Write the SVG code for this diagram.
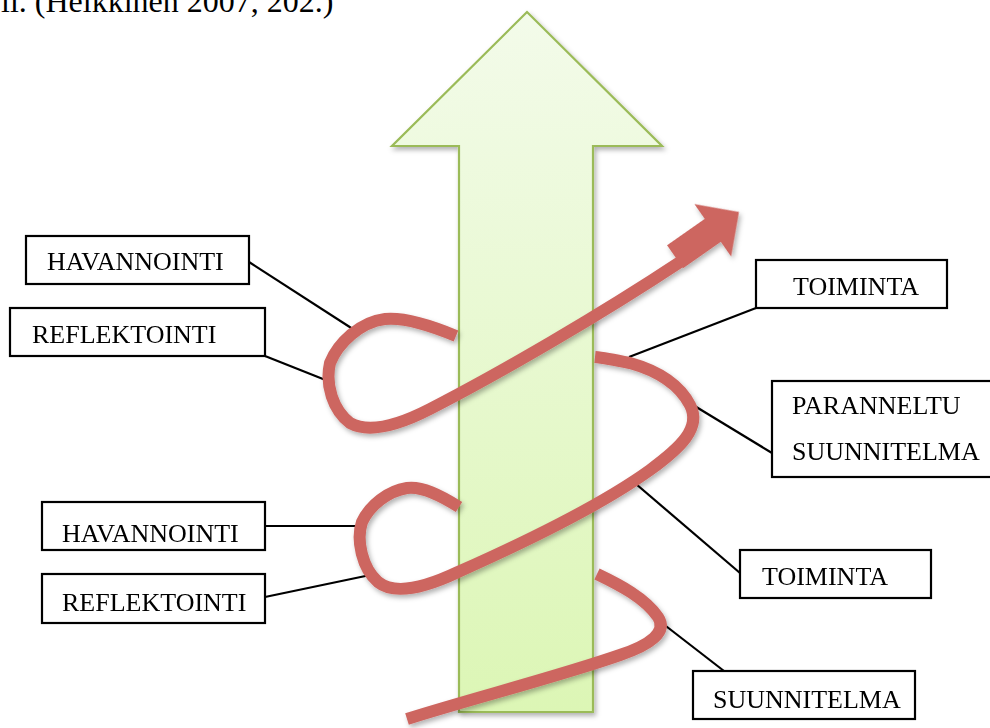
<svg xmlns="http://www.w3.org/2000/svg" width="990" height="728" viewBox="0 0 990 728">
<style>
.box{fill:#ffffff;stroke:#000000;stroke-width:2.2}
.lbl{font-family:"Liberation Serif","Times New Roman",serif;font-size:26px;fill:#000000}
.lead{stroke:#000000;stroke-width:2.2;fill:none}
.rib{fill:none;stroke:#cd6660;stroke-width:12;stroke-linecap:butt;stroke-linejoin:round}
</style>
<defs>
<linearGradient id="gArrow" x1="0" y1="0" x2="0" y2="1">
<stop offset="0" stop-color="#f3fbea"/>
<stop offset="1" stop-color="#dcf6b5"/>
</linearGradient>
<filter id="sh" x="-20%" y="-20%" width="140%" height="140%">
<feDropShadow dx="2" dy="3" stdDeviation="2.5" flood-color="#000000" flood-opacity="0.3"/>
</filter>
</defs>
<text x="1" y="12" font-family="Liberation Serif, Times New Roman, serif" font-size="32" fill="#000000">ll. (Heikkinen 2007, 202.)</text>
<g id="big-arrow">
<polygon points="527,12 662,146 593,146 593,712 459,712 459,146 392,146" fill="url(#gArrow)" stroke="#9bbb59" stroke-width="2.2" stroke-linejoin="miter" filter="url(#sh)"/>
</g>
<g id="connectors">
<line class="lead" x1="249" y1="262" x2="359" y2="333"/>
<line class="lead" x1="265" y1="356" x2="328" y2="381"/>
<line class="lead" x1="756" y1="308" x2="629" y2="357"/>
<line class="lead" x1="693" y1="405" x2="772" y2="453"/>
<line class="lead" x1="629" y1="478" x2="740" y2="573"/>
<line class="lead" x1="265" y1="526" x2="360" y2="526"/>
<line class="lead" x1="265" y1="597" x2="375" y2="574"/>
<line class="lead" x1="662" y1="623" x2="724" y2="671"/>
</g>
<g id="spiral" filter="url(#sh)">
<path class="rib" d="M407,719 C470,699 560,676 620,655 C650,645 668,632 658,617 C645,598 620,585 597,574"/>
<path class="rib" d="M459,507 C440,495 422,486 407,488 C388,491 370,505 362,522 C356,540 362,568 378,582 C393,594 420,590 458,572 C530,540 600,506 650,470 C680,448 702,428 690,405 C678,382 655,370 630,363 C615,360 605,358 595,357"/>
<path class="rib" d="M456,336 C432,326 405,317 385,319 C360,322 338,343 330,363 C325,385 333,410 350,423 C368,433 395,427 430,409 C500,373 600,315 680,262"/>
<polygon points="0,0 -32,-32 -32,-14 -78,-14 -78,14 -32,14 -32,32" fill="#cd6660" transform="translate(739,212) rotate(-35)"/>
</g>
<g id="havannointi-1"><rect class="box" x="26" y="236" width="223" height="48"/><text class="lbl" x="47" y="270">HAVANNOINTI</text></g>
<g id="reflektointi-1"><rect class="box" x="10" y="308" width="255" height="48"/><text class="lbl" x="32" y="343">REFLEKTOINTI</text></g>
<g id="toiminta-1"><rect class="box" x="756" y="260" width="191" height="48"/><text class="lbl" x="793" y="295">TOIMINTA</text></g>
<g id="paranneltu-suunnitelma"><rect class="box" x="772" y="381" width="222" height="96"/><text class="lbl" x="792" y="414">PARANNELTU</text><text class="lbl" x="792" y="460">SUUNNITELMA</text></g>
<g id="havannointi-2"><rect class="box" x="42" y="502" width="223" height="48"/><text class="lbl" x="62" y="542">HAVANNOINTI</text></g>
<g id="reflektointi-2"><rect class="box" x="42" y="574" width="223" height="49"/><text class="lbl" x="62" y="611">REFLEKTOINTI</text></g>
<g id="toiminta-2"><rect class="box" x="740" y="550" width="191" height="48"/><text class="lbl" x="762" y="585">TOIMINTA</text></g>
<g id="suunnitelma"><rect class="box" x="693" y="671" width="222" height="48"/><text class="lbl" x="713" y="708">SUUNNITELMA</text></g>
</svg>
